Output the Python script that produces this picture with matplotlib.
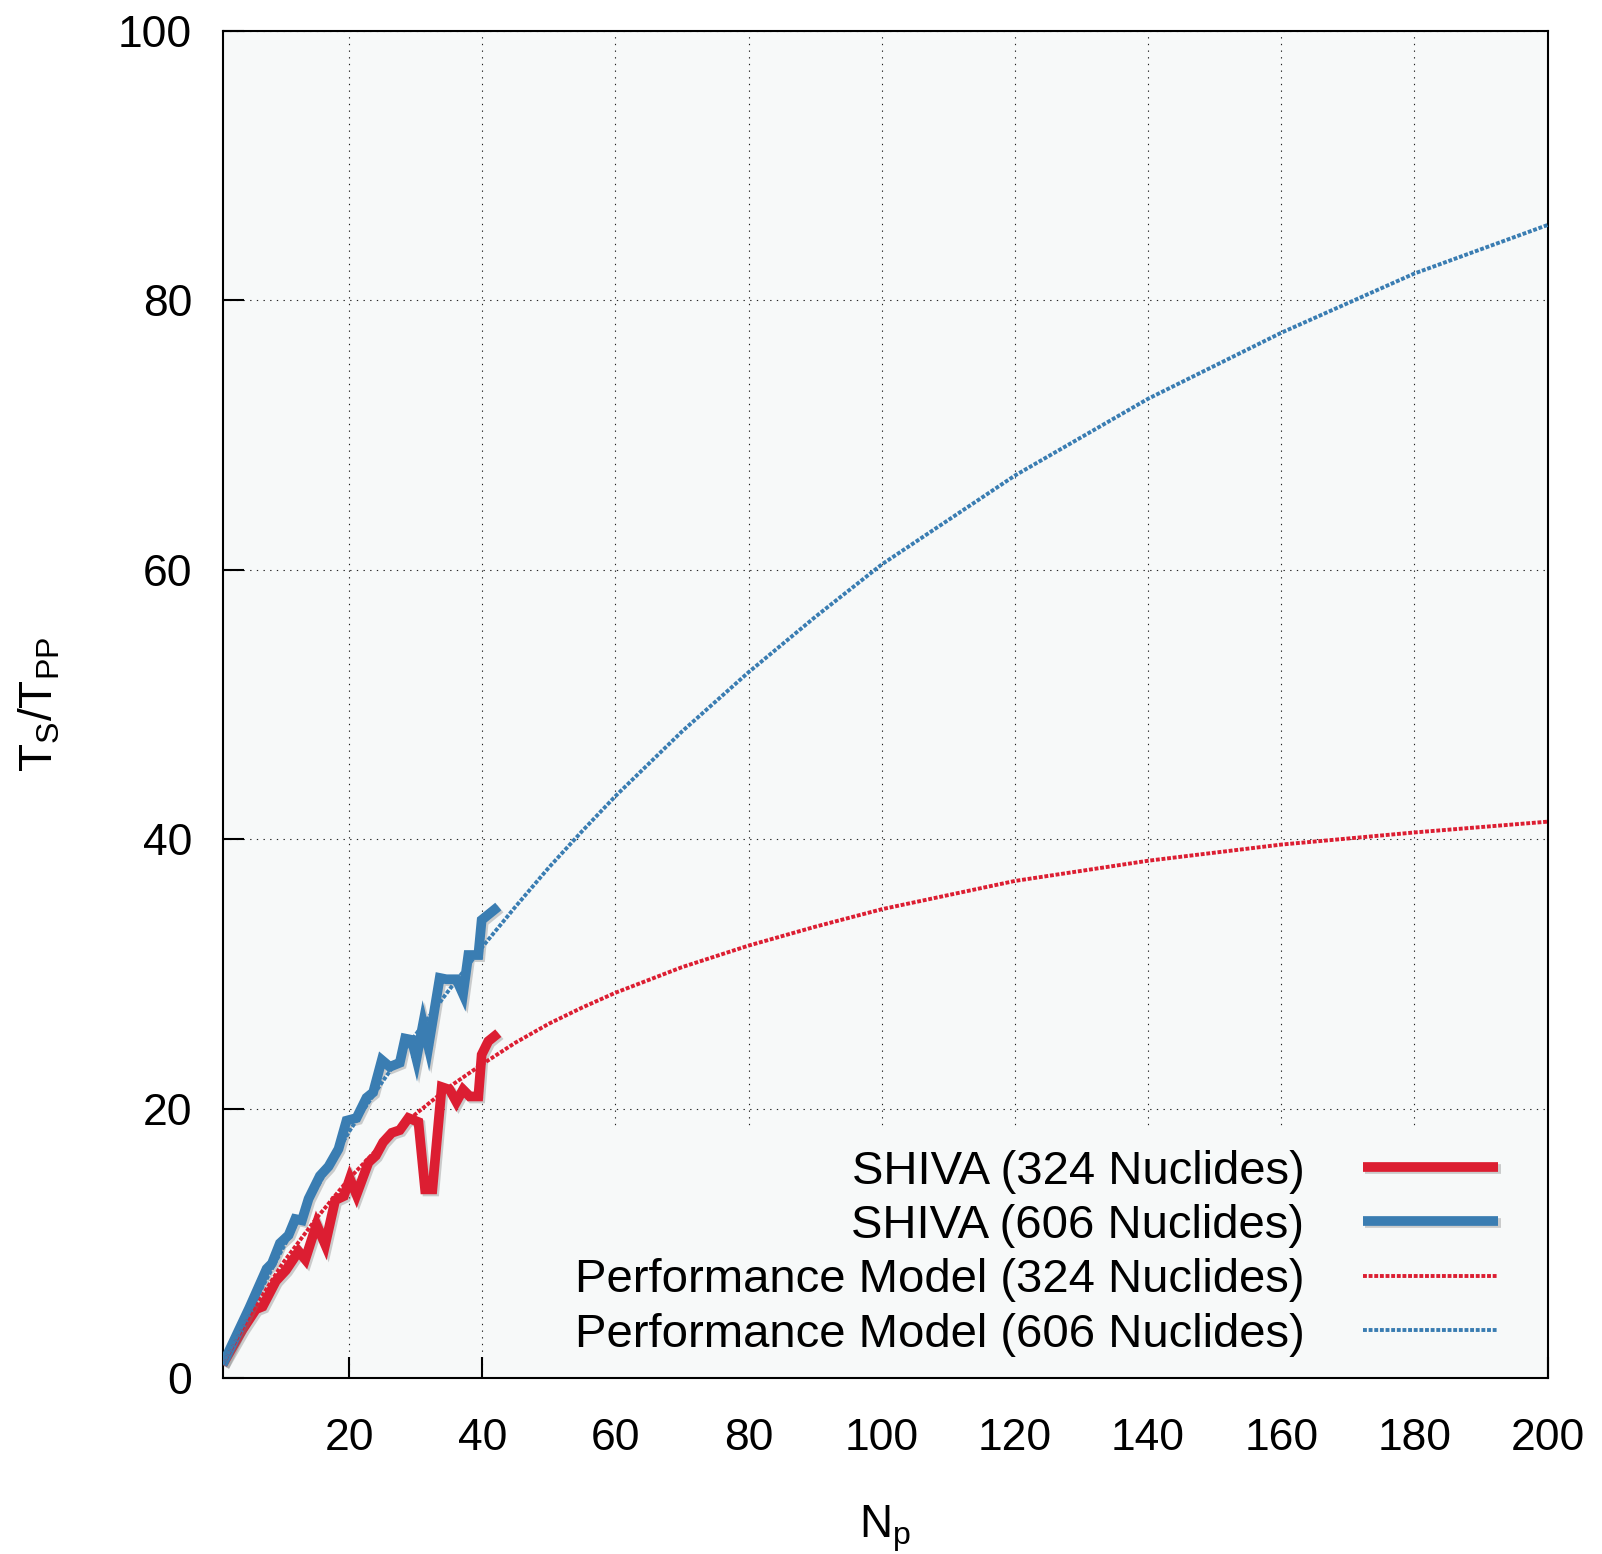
import matplotlib
matplotlib.use("Agg")
import matplotlib.pyplot as plt
import matplotlib.patheffects as pe

plt.rcParams['font.family'] = ['Liberation Sans', 'DejaVu Sans']

# measured speedup, 324 nuclides
shiva324_np = [1, 4, 6, 7, 9, 10.5, 12.4, 13.4, 15.1, 16.4, 17.9, 19.2, 20.1, 21.1, 22.9, 24, 25.1,
               26.4, 27.6, 28.9, 30.4, 31.4, 32.5, 33.9, 35.1, 36.1, 37.1, 38.1, 39.4, 39.9, 40.9, 42.4]
shiva324_sp = [1, 3.6, 5.1, 5.3, 7.2, 8.0, 9.4, 8.8, 11.4, 9.9, 13.2, 13.5, 14.8, 13.6, 16.0, 16.5, 17.5,
               18.2, 18.4, 19.3, 19.0, 14.0, 14.0, 21.6, 21.4, 20.5, 21.4, 20.9, 20.9, 24.0, 25.0, 25.6]

# measured speedup, 606 nuclides
shiva606_np = [1, 5, 7.6, 8.4, 9.6, 10.9, 11.9, 12.9, 13.9, 15.6, 16.9, 18.4, 19.6, 21.1, 22.6, 23.6, 24.9,
               26.1, 27.6, 28.4, 29.4, 30.1, 31.1, 31.9, 33.6, 34.6, 36.1, 37.1, 37.9, 39.4, 39.9, 40.9, 42.4]
shiva606_sp = [1, 5.2, 8.1, 8.5, 10.0, 10.6, 11.8, 11.7, 13.3, 15.0, 15.7, 17.0, 19.1, 19.3, 20.8, 21.2, 23.6,
               23.1, 23.4, 25.2, 25.1, 23.7, 26.3, 24.6, 29.7, 29.6, 29.6, 28.5, 31.4, 31.4, 34.0, 34.4, 35.0]

# performance model curves
model_np = [1, 5, 10, 15, 20, 25, 30, 35, 40, 45, 50, 55, 60, 70, 80, 90, 100, 120, 140, 160, 180, 200]
model324 = [1, 4.6, 8.5, 11.8, 14.8, 17.4, 19.6, 21.6, 23.3, 24.9, 26.3, 27.5, 28.6, 30.5, 32.1, 33.5,
            34.8, 36.9, 38.4, 39.6, 40.5, 41.3]
model606 = [1, 4.9, 9.6, 14.0, 18.3, 22.0, 25.5, 28.8, 32.0, 35.0, 37.9, 40.6, 43.2, 48.0, 52.4, 56.5,
            60.4, 67.0, 72.7, 77.6, 82.0, 85.6]

xticks = [20, 40, 60, 80, 100, 120, 140, 160, 180, 200]
yticks = [0, 20, 40, 60, 80, 100]

red = '#dc1e32'
blue = '#3a7db2'
bg = '#f7f9f9'

fig = plt.figure(figsize=(16.02, 15.54), dpi=100)
ax = fig.add_axes([0.139, 0.1133, 0.827, 0.8667])
ax.set_facecolor(bg)

shadow = [pe.SimpleLineShadow(offset=(1.5, -1.5), shadow_color='#777777', alpha=0.35), pe.Normal()]

ax.plot(shiva324_np, shiva324_sp, color=red, lw=7, solid_joinstyle='miter', solid_capstyle='butt',
        path_effects=shadow, label='SHIVA (324 Nuclides)', zorder=3)
ax.plot(shiva606_np, shiva606_sp, color=blue, lw=7, solid_joinstyle='miter', solid_capstyle='butt',
        path_effects=shadow, label='SHIVA (606 Nuclides)', zorder=3)
ax.plot(model_np, model324, color=red, lw=2.8, linestyle=(0, (1, 0.45)), dash_capstyle='butt',
        label='Performance Model (324 Nuclides)', zorder=4)
ax.plot(model_np, model606, color=blue, lw=2.8, linestyle=(0, (1, 0.45)), dash_capstyle='butt',
        label='Performance Model (606 Nuclides)', zorder=4)

ax.set_xlim(1, 200)
ax.set_ylim(0, 100)
ax.set_xticks(xticks)
ax.set_yticks(yticks)
ax.tick_params(direction='in', length=15, width=1.5, labelsize=32)
ax.tick_params(axis='x', pad=29)
ax.tick_params(axis='y', pad=22)
ax.set_axisbelow(True)
ax.grid(True, color='#222222', lw=0.8, linestyle=(0, (1.2, 4.8)))
for s in ax.spines.values():
    s.set_linewidth(1.5)

ax.set_xlabel(r'$\mathregular{N_p}$', fontsize=33, labelpad=32)
ax.set_ylabel(r'$\mathregular{T_S/T_{PP}}$', fontsize=33, labelpad=40)

leg = ax.legend(loc='lower right', bbox_to_anchor=(0.979, 0.0), borderaxespad=0, borderpad=0.45,
                markerfirst=False, fontsize=34, handlelength=2.86, handletextpad=1.25,
                labelspacing=0.22, frameon=True, fancybox=False, facecolor=bg, edgecolor='none',
                framealpha=1)
leg.set_zorder(2)

fig.savefig('out.png', dpi=100)
